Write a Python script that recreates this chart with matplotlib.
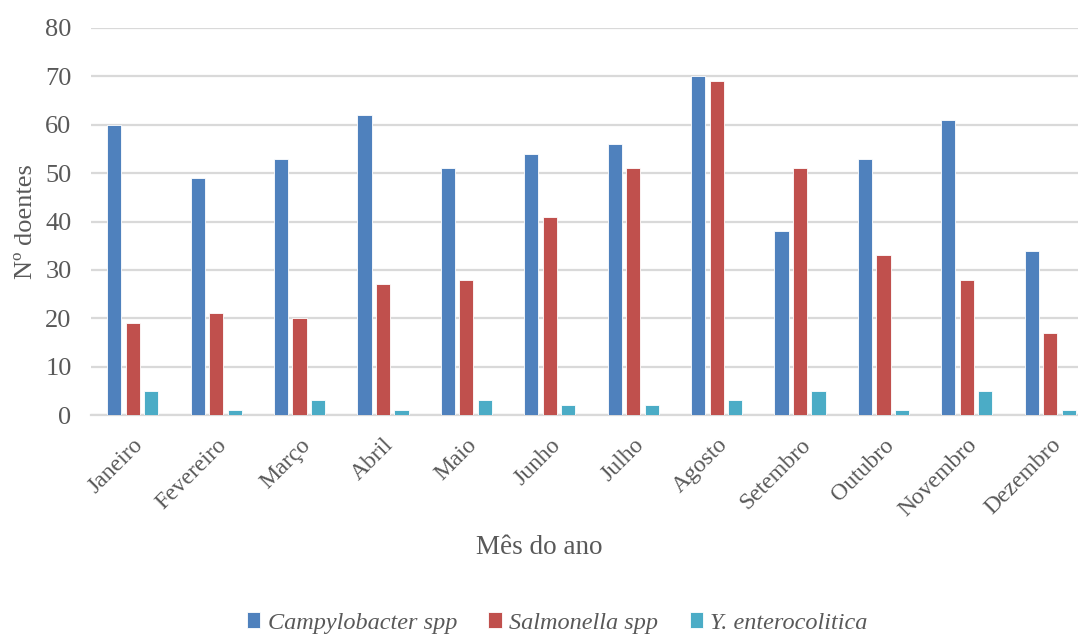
import numpy as np
import matplotlib.pyplot as plt

plt.rcParams['font.family'] = ['Liberation Serif', 'DejaVu Serif']

meses = ["Janeiro", "Fevereiro", "Março", "Abril", "Maio", "Junho",
         "Julho", "Agosto", "Setembro", "Outubro", "Novembro", "Dezembro"]
campylobacter = [60, 49, 53, 62, 51, 54, 56, 70, 38, 53, 61, 34]
salmonella = [19, 21, 20, 27, 28, 41, 51, 69, 51, 33, 28, 17]
yersinia = [5, 1, 3, 1, 3, 2, 2, 3, 5, 1, 5, 1]

series = [
    ("Campylobacter spp", campylobacter, "#4F81BD"),
    ("Salmonella spp", salmonella, "#C0504D"),
    ("Y. enterocolitica", yersinia, "#4BACC6"),
]

TXT = "#595959"
W, H = 1078, 635

fig = plt.figure(figsize=(W / 100, H / 100), dpi=100)
ax = fig.add_axes([91 / W, 1 - 415 / H, 1001 / W, 387 / H])

x = np.arange(len(meses))
width = 0.17
step = 0.222
for i, (nome, vals, cor) in enumerate(series):
    ax.bar(x + (i - 1) * step, vals, width, color=cor, label=nome,
           edgecolor="white", linewidth=0.6, zorder=3)

ax.set_xlim(-0.5, len(meses) - 0.5)
ax.set_ylim(0, 80)
ax.set_yticks(range(0, 81, 10))
ax.grid(axis="y", color="#d9d9d9", linewidth=1.6, zorder=0)
for s in ["top", "right", "left"]:
    ax.spines[s].set_visible(False)
ax.spines["bottom"].set_color("#d9d9d9")
ax.spines["bottom"].set_linewidth(1.6)
ax.tick_params(axis="both", length=0, colors=TXT, labelsize=19)
ax.tick_params(axis="y", pad=14)

ax.set_xticks(x)
ax.set_xticklabels(meses, rotation=45, ha="right", rotation_mode="anchor",
                   fontsize=17, color=TXT)
ax.tick_params(axis="x", pad=14)

ax.set_ylabel("Nº doentes", fontsize=19, color=TXT, labelpad=6)
fig.text(0.5, 1 - 548 / H, "Mês do ano", fontsize=19.5, color=TXT,
         ha="center", va="center")

fig.legend(loc="center", bbox_to_anchor=(0.517, 1 - 623 / H), ncol=3,
           frameon=False, prop={"style": "italic", "size": 17.5},
           labelcolor=TXT, handlelength=0.55, handleheight=0.65,
           handletextpad=0.3, columnspacing=1.3)

fig.savefig("out.png", dpi=100)
